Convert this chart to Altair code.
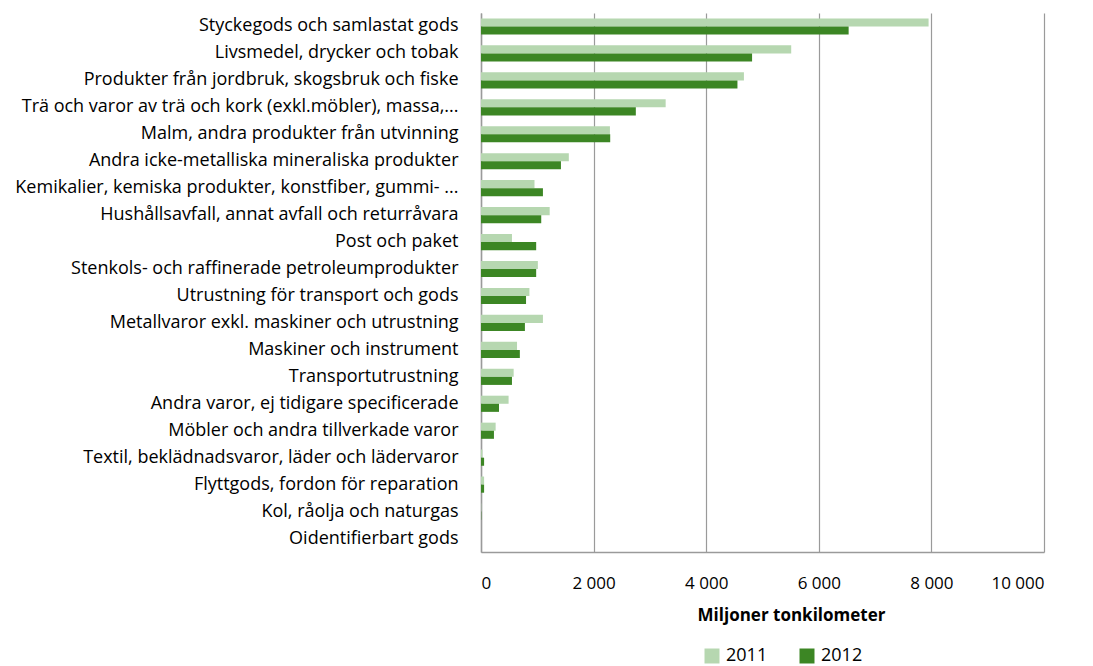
import altair as alt
import pandas as pd

categories = [
    "Styckegods och samlastat  gods",
    "Livsmedel, drycker och tobak",
    "Produkter från jordbruk, skogsbruk och fiske",
    "Trä och varor av trä och kork (exkl.möbler), massa,...",
    "Malm, andra produkter från utvinning",
    "Andra icke-metalliska mineraliska produkter",
    "Kemikalier, kemiska produkter, konstfiber, gummi- ...",
    "Hushållsavfall, annat avfall och returråvara",
    "Post och paket",
    "Stenkols- och raffinerade petroleumprodukter",
    "Utrustning för transport och gods",
    "Metallvaror exkl. maskiner och utrustning",
    "Maskiner och instrument",
    "Transportutrustning",
    "Andra varor, ej tidigare specificerade",
    "Möbler och andra tillverkade varor",
    "Textil, beklädnadsvaror, läder och lädervaror",
    "Flyttgods, fordon för reparation",
    "Kol, råolja och naturgas",
    "Oidentifierbart gods",
]
values_2011 = [7950, 5510, 4670, 3280, 2290, 1560, 950, 1220, 550, 1010,
               860, 1100, 640, 580, 490, 260, 25, 55, 5, 0]
values_2012 = [6530, 4815, 4555, 2750, 2295, 1420, 1100, 1070, 980, 980,
               800, 780, 690, 550, 320, 230, 55, 55, 5, 0]
years = ["2011", "2012"]
colors = ["#B6D7B0", "#3C8624"]

rows = []
for i, c in enumerate(categories):
    rows.append({"kategori": c, "år": years[0], "värde": values_2011[i]})
    rows.append({"kategori": c, "år": years[1], "värde": values_2012[i]})
df = pd.DataFrame(rows)

FONT = "Open Sans"

chart = alt.Chart(df).mark_bar().encode(
    x=alt.X("värde:Q",
            scale=alt.Scale(domain=[0, 10000], nice=False),
            axis=alt.Axis(values=[0, 2000, 4000, 6000, 8000, 10000],
                          labelExpr="replace(format(datum.value, ',d'), ',', ' ')",
                          title="Miljoner tonkilometer", titleFontWeight="bold",
                          titleFontSize=17, titleFont=FONT,
                          titleX=310, titleY=68, titleBaseline="alphabetic",
                          labelFont=FONT, labelFontSize=17, labelColor="#000",
                          labelPadding=23, ticks=False,
                          grid=True, gridColor="#9a9a9a", gridWidth=1.2,
                          domainColor="#9a9a9a", domainWidth=1.5,
                          titleColor="#000")),
    y=alt.Y("kategori:N", sort=categories,
            scale=alt.Scale(paddingInner=0.4, paddingOuter=0.2),
            axis=alt.Axis(title=None, labelFont=FONT, labelFontSize=18,
                          labelColor="#000", labelPadding=23, ticks=False,
                          labelLimit=600, domainColor="#9a9a9a", domainWidth=1.5)),
    yOffset=alt.YOffset("år:N", sort=years, scale=alt.Scale(paddingInner=0)),
    color=alt.Color("år:N", sort=years,
                    scale=alt.Scale(domain=years, range=colors),
                    legend=alt.Legend(title=None, orient="none", direction="horizontal",
                                      legendX=222, legendY=634,
                                      symbolType="square", symbolSize=225,
                                      symbolStrokeWidth=0, labelOffset=5,
                                      labelFont=FONT, labelFontSize=18,
                                      labelColor="#000", columnPadding=30)),
).properties(
    width=563, height=539,
    autosize=alt.AutoSizeParams(type="none"),
    padding={"left": 473, "top": 5, "right": 40, "bottom": 115},
).configure_view(stroke=None)

chart.save("out.html", embed_options={"renderer": "svg", "actions": False})
